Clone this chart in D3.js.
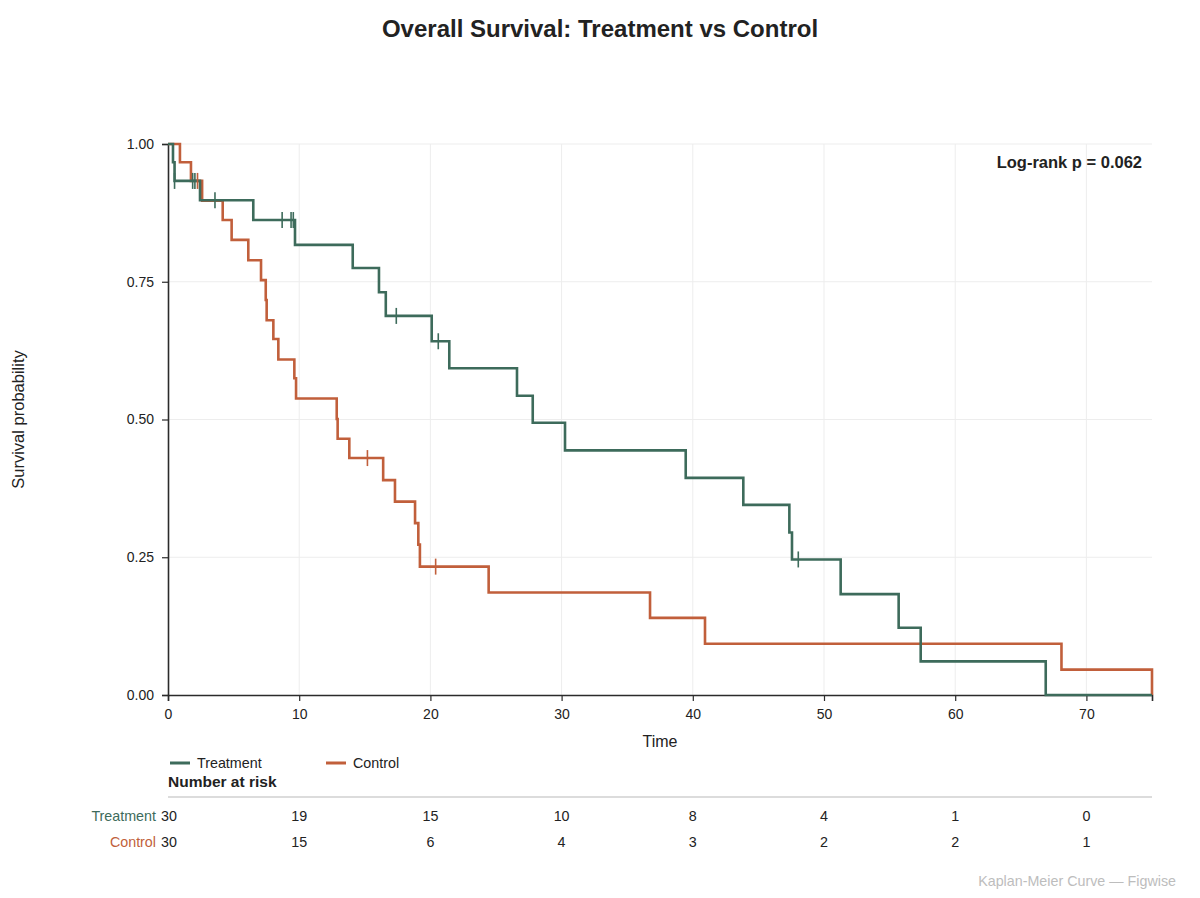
<!DOCTYPE html>
<html>
<head>
<meta charset="utf-8">
<script src="https://cdn.jsdelivr.net/npm/d3@7"></script>
<style>
  html, body { margin: 0; padding: 0; background: #fff; }
  svg { display: block; font-family: "Liberation Sans", Arial, Helvetica, sans-serif; }
</style>
</head>
<body>
<svg id="chart" width="1200" height="898"></svg>
<script>
// ---- Data ----
const treatmentTimes = [0, 0.38, 0.5, 2.44, 6.5, 9.68, 14.08, 16.08, 16.6, 20.1, 21.44, 26.6, 27.8, 30.26, 39.46, 43.85, 47.36, 47.56, 51.27, 55.69, 57.37, 66.9, 75];
const treatmentSurv  = [1, 0.967, 0.933, 0.898, 0.862, 0.817, 0.775, 0.731, 0.688, 0.642, 0.593, 0.543, 0.494, 0.444, 0.394, 0.345, 0.295, 0.246, 0.183, 0.122, 0.061, 0, 0];
const treatmentCensor = [0.5, 1.88, 2.05, 3.58, 8.7, 9.38, 9.55, 17.4, 20.6, 48.04];

const controlTimes = [0, 0.91, 1.75, 2.6, 4.17, 4.85, 6.12, 7.09, 7.45, 7.52, 8.03, 8.41, 9.63, 9.76, 12.86, 12.93, 13.82, 16.4, 17.3, 18.83, 19.08, 19.2, 24.44, 36.74, 40.93, 68.1, 75];
const controlSurv  = [1, 0.967, 0.933, 0.897, 0.862, 0.826, 0.789, 0.753, 0.717, 0.680, 0.646, 0.609, 0.575, 0.538, 0.501, 0.465, 0.430, 0.390, 0.351, 0.312, 0.273, 0.233, 0.186, 0.140, 0.093, 0.046, 0];
const controlCensor = [2.25, 15.2, 20.4];

const riskTimes = [0, 10, 20, 30, 40, 50, 60, 70];
const riskTreatment = [30, 19, 15, 10, 8, 4, 1, 0];
const riskControl = [30, 15, 6, 4, 3, 2, 2, 1];

const xTicks = [0, 10, 20, 30, 40, 50, 60, 70];
const yTicks = [0, 0.25, 0.5, 0.75, 1.0];

const seriesNames = ["Treatment", "Control"];
const seriesColors = ["#3d6b5b", "#c15f3b"];
const pValueText = "Log-rank p = 0.062";

// ---- Layout ----
const svg = d3.select("#chart");
const plotLeft = 168, plotRight = 1152, plotTop = 144, plotBottom = 695;
const x = d3.scaleLinear().domain([0, 75]).range([plotLeft, plotRight]);
const y = d3.scaleLinear().domain([0, 1]).range([plotBottom, plotTop]);

// Title
svg.append("text").attr("x", 600).attr("y", 37).attr("text-anchor", "middle")
  .attr("font-size", 24).attr("font-weight", "bold").attr("fill", "#222")
  .text("Overall Survival: Treatment vs Control");

// Grid
const grid = svg.append("g");
grid.selectAll(".hg").data(yTicks.filter(d => d > 0)).enter().append("line")
  .attr("x1", plotLeft).attr("x2", plotRight).attr("y1", d => y(d)).attr("y2", d => y(d))
  .attr("stroke", "#ededed").attr("stroke-width", 1);
grid.selectAll(".vg").data(xTicks.filter(d => d > 0)).enter().append("line")
  .attr("y1", plotTop).attr("y2", plotBottom).attr("x1", d => x(d)).attr("x2", d => x(d))
  .attr("stroke", "#ededed").attr("stroke-width", 1);

// Axes
const xAxis = svg.append("g").attr("transform", `translate(0,${plotBottom})`)
  .call(d3.axisBottom(x).tickValues(xTicks).tickFormat(d3.format("d")).tickSizeOuter(0).tickSize(6).tickPadding(8));
const yAxis = svg.append("g").attr("transform", `translate(${plotLeft},0)`)
  .call(d3.axisLeft(y).tickValues(yTicks).tickFormat(d3.format(".2f")).tickSizeOuter(0).tickSize(6).tickPadding(8));
[xAxis, yAxis].forEach(a => {
  a.select(".domain").attr("stroke", "#2b2b2b").attr("stroke-width", 1.6);
  a.selectAll(".tick line").attr("stroke", "#2b2b2b").attr("stroke-width", 1.2);
  a.selectAll(".tick text").attr("font-size", 14).attr("fill", "#222")
    .attr("font-family", "'Liberation Sans', Arial, sans-serif");
});

// Axis labels
svg.append("text").attr("x", x(37.5)).attr("y", 747).attr("text-anchor", "middle")
  .attr("font-size", 16).attr("fill", "#222").text("Time");
svg.append("text").attr("transform", `translate(24,${(plotTop + plotBottom) / 2}) rotate(-90)`)
  .attr("text-anchor", "middle").attr("font-size", 16.5).attr("fill", "#222").text("Survival probability");

// Curves
function stepAt(times, surv, t) {
  const i = d3.bisectRight(times, t) - 1;
  return surv[Math.max(0, i)];
}
const line = d3.line().x(d => x(d[0])).y(d => y(d[1])).curve(d3.curveStepAfter);
const series = [
  { times: treatmentTimes, surv: treatmentSurv, censor: treatmentCensor, color: seriesColors[0] },
  { times: controlTimes, surv: controlSurv, censor: controlCensor, color: seriesColors[1] }
];
series.slice().reverse().forEach(s => {
  const pts = s.times.map((t, i) => [t, s.surv[i]]);
  svg.append("path").datum(pts).attr("d", line).attr("fill", "none")
    .attr("stroke", s.color).attr("stroke-width", 2.6).attr("stroke-linejoin", "miter");
});
series.forEach(s => {
  svg.append("g").selectAll("line").data(s.censor).enter().append("line")
    .attr("x1", d => x(d)).attr("x2", d => x(d))
    .attr("y1", d => y(stepAt(s.times, s.surv, d)) - 8)
    .attr("y2", d => y(stepAt(s.times, s.surv, d)) + 8)
    .attr("stroke", s.color).attr("stroke-width", 1.6);
});

// p-value
svg.append("text").attr("x", 1142).attr("y", 168).attr("text-anchor", "end")
  .attr("font-size", 16.5).attr("font-weight", "bold").attr("fill", "#222").text(pValueText);

// Legend
const legendX = [170, 326];
seriesNames.forEach((n, i) => {
  svg.append("line").attr("x1", legendX[i]).attr("x2", legendX[i] + 20).attr("y1", 763).attr("y2", 763)
    .attr("stroke", seriesColors[i]).attr("stroke-width", 3);
  svg.append("text").attr("x", legendX[i] + 27).attr("y", 768).attr("font-size", 14.3).attr("fill", "#222").text(n);
});

// Number at risk
svg.append("text").attr("x", 168).attr("y", 787).attr("font-size", 15.5).attr("font-weight", "bold")
  .attr("fill", "#222").text("Number at risk");
svg.append("line").attr("x1", plotLeft).attr("x2", plotRight).attr("y1", 797).attr("y2", 797)
  .attr("stroke", "#dcdcdc").attr("stroke-width", 2);
const riskRows = [riskTreatment, riskControl];
const rowY = [821, 847];
riskRows.forEach((row, r) => {
  svg.append("text").attr("x", 156).attr("y", rowY[r]).attr("text-anchor", "end")
    .attr("font-size", 14.3).attr("fill", seriesColors[r]).text(seriesNames[r]);
  svg.append("g").selectAll("text").data(row).enter().append("text")
    .attr("x", (d, i) => x(riskTimes[i]) + (i === 0 ? 1 : 0)).attr("y", rowY[r])
    .attr("text-anchor", "middle").attr("font-size", 14.3).attr("fill", "#222").text(d => d);
});

// Footer
svg.append("text").attr("x", 1176).attr("y", 886).attr("text-anchor", "end")
  .attr("font-size", 14.3).attr("fill", "#bdbdbd").text("Kaplan-Meier Curve — Figwise");
</script>
</body>
</html>
